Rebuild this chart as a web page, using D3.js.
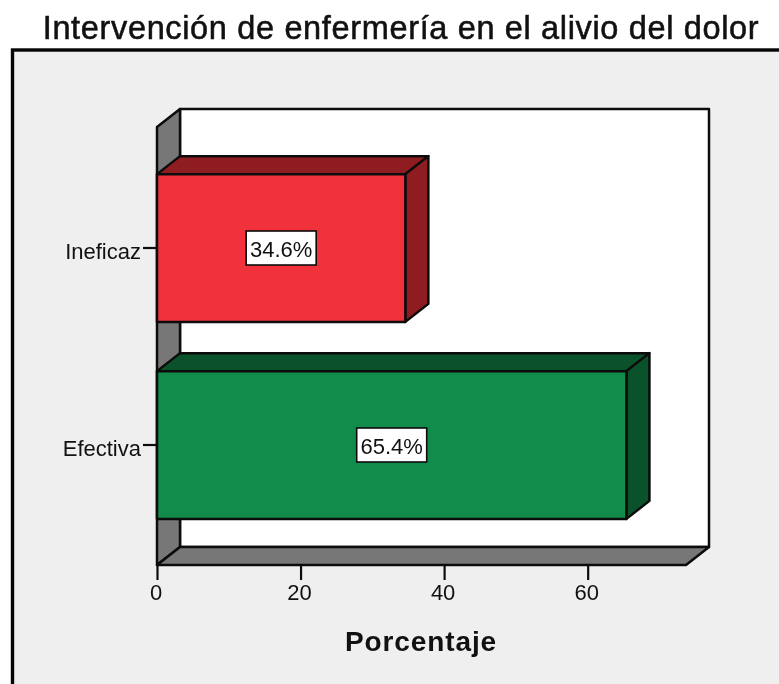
<!DOCTYPE html>
<html><head><meta charset="utf-8">
<script src="https://cdn.jsdelivr.net/npm/d3@7/dist/d3.min.js"></script>
<style>html,body{margin:0;padding:0;background:#fff;overflow:hidden}svg{display:block;filter:blur(.5px)}text{font-family:"Liberation Sans",Arial,sans-serif;fill:#111}</style>
</head><body><svg id="c" width="779" height="684"></svg>
<script>
const categories = ["Ineficaz", "Efectiva"];
const values = [34.6, 65.4];
const frontColors = ["#f2323a", "#118c4a"];
const topColors = ["#8e1c20", "#0a5229"];
const xTicks = [0, 20, 40, 60];
const title = "Intervención de enfermería en el alivio del dolor";
const xTitle = "Porcentaje";

const svg = d3.select("#c");
const ink = "#0c0c0c";
const depth = {x: 23, y: 18};
const x = d3.scaleLinear().domain([0, 73.7]).range([157, 686]);
const y = d3.scaleBand().domain(categories).range([149.5, 543.5]).paddingInner(.25).paddingOuter(.125);
const top0 = 127, bot0 = 565;
const poly = (pts, fill, sw = 2.5) => svg.append("polygon").attr("points", pts.map(p => p.join(",")).join(" "))
  .attr("fill", fill).attr("stroke", ink).attr("stroke-width", sw).attr("stroke-linejoin", "round");

// Outer panel
svg.append("rect").attr("x", 12.5).attr("y", 50).attr("width", 800).attr("height", 700)
  .attr("fill", "#efefef").attr("stroke", "#050505").attr("stroke-width", 3.4);

// Title
svg.append("text").attr("x", 401).attr("y", 39).attr("text-anchor", "middle")
  .attr("font-size", 32.5).attr("letter-spacing", .65).attr("stroke", "#111").attr("stroke-width", .55).text(title);

// 3D walls
const xl = x(0), xr = x.range()[1], d = depth;
poly([[xl + d.x, top0 - d.y], [xr + d.x, top0 - d.y], [xr + d.x, bot0 - d.y], [xl + d.x, bot0 - d.y]], "#ffffff");
poly([[xl, top0], [xl + d.x, top0 - d.y], [xl + d.x, bot0 - d.y], [xl, bot0]], "#777777");
poly([[xl, bot0], [xl + d.x, bot0 - d.y], [xr + d.x, bot0 - d.y], [xr, bot0]], "#777777");

// Bars
categories.forEach((c, i) => {
  const y0 = y(c), y1 = y0 + y.bandwidth(), x1 = x(values[i]);
  poly([[xl, y0], [xl + d.x, y0 - d.y], [x1 + d.x, y0 - d.y], [x1, y0]], topColors[i]);
  poly([[x1, y0], [x1 + d.x, y0 - d.y], [x1 + d.x, y1 - d.y], [x1, y1]], topColors[i]);
  poly([[xl, y0], [x1, y0], [x1, y1], [xl, y1]], frontColors[i]);
  const cx = (xl + x1) / 2, cy = (y0 + y1) / 2;
  svg.append("rect").attr("x", cx - 35).attr("y", cy - 17).attr("width", 70).attr("height", 34)
    .attr("fill", "#fff").attr("stroke", ink).attr("stroke-width", 1.6);
  svg.append("text").attr("x", cx).attr("y", cy + 8.5).attr("text-anchor", "middle")
    .attr("font-size", 22).text(values[i].toFixed(1) + "%");
});

// Axes
const gx = svg.append("g").attr("transform", `translate(0,${bot0})`)
  .call(d3.axisBottom(x).tickValues(xTicks).tickSize(15).tickPadding(4).tickFormat(d3.format("d")));
const gy = svg.append("g").attr("transform", `translate(${xl},0)`)
  .call(d3.axisLeft(y).tickSize(14).tickPadding(2));
[gx, gy].forEach(g => {
  g.select(".domain").remove();
  g.selectAll("line").attr("stroke", ink).attr("stroke-width", 2.2);
  g.selectAll("text").attr("font-size", 22).attr("font-family", '"Liberation Sans",Arial,sans-serif').attr("fill", "#111");
});
gx.selectAll("text").attr("dx", -1.5);
gy.selectAll("text").attr("dy", "0.5em");

svg.append("text").attr("x", 421).attr("y", 651).attr("text-anchor", "middle")
  .attr("font-size", 28).attr("letter-spacing", .9).attr("font-weight", "bold").text(xTitle);
</script></body></html>
